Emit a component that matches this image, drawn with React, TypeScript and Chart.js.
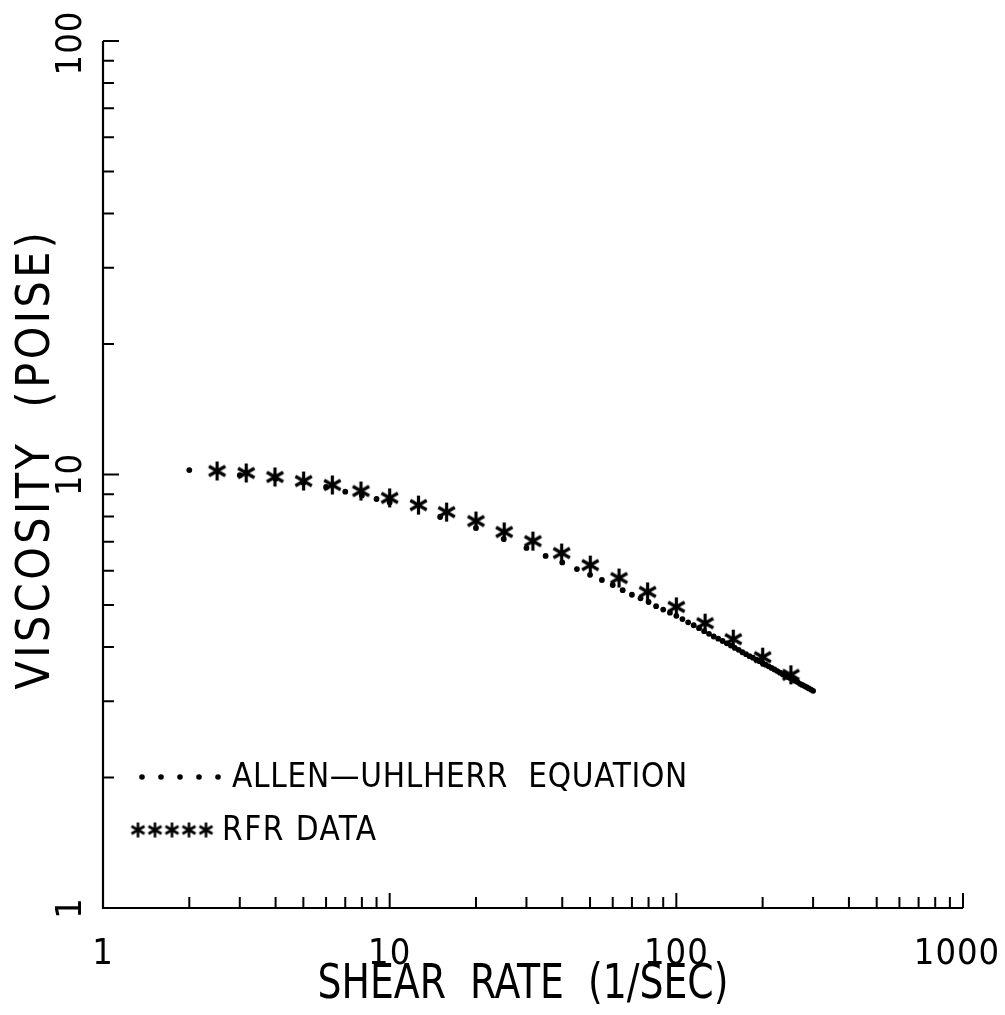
import React, { useEffect, useRef } from "react";
import { Chart, registerables } from "chart.js";

Chart.register(...registerables);

// ---- data ----
const rfrShear = [2.5, 3.16, 3.98, 5.01, 6.31, 7.94, 10, 12.6, 15.8, 20, 25.1, 31.6, 39.8, 50.1, 63.1, 79.4, 100, 126, 158, 200, 251];
const rfrVisc = [10.19, 10.08, 9.87, 9.66, 9.46, 9.16, 8.83, 8.5, 8.19, 7.81, 7.37, 7.02, 6.59, 6.18, 5.77, 5.36, 4.95, 4.54, 4.17, 3.79, 3.45];

const eqShear = [
  2, 3, 4, 5, 6, 7, 8, 9, 10,
  15, 20, 25, 30, 35, 40, 45, 50, 55, 60, 65, 70, 75, 80, 85, 90, 95, 100,
  105, 110, 115, 120, 125, 130, 135, 140, 145, 150,
  155, 160, 165, 170, 175, 180, 185, 190, 195, 200,
  205, 210, 215, 220, 225, 230, 235, 240, 245, 250,
  255, 260, 265, 270, 275, 280, 285, 290, 295, 300,
];
const eqVisc = [
  10.24, 9.97, 9.78, 9.57, 9.36, 9.13, 8.95, 8.78, 8.62,
  7.98, 7.53, 7.1, 6.77, 6.49, 6.27, 6.05, 5.87, 5.71, 5.56, 5.41, 5.28, 5.18, 5.08, 4.97, 4.88, 4.8, 4.72,
  4.64, 4.56, 4.49, 4.42, 4.35, 4.29, 4.23, 4.18, 4.13, 4.08,
  4.03, 3.98, 3.94, 3.89, 3.85, 3.81, 3.78, 3.74, 3.71, 3.67,
  3.64, 3.61, 3.58, 3.55, 3.52, 3.49, 3.46, 3.44, 3.41, 3.39,
  3.36, 3.34, 3.32, 3.29, 3.27, 3.25, 3.23, 3.21, 3.19, 3.17,
];

const xTickValues = [1, 10, 100, 1000];
const xTickLabels = ["1", "10", "100", "1000"];
const yTickValues = [1, 10, 100];
const yTickLabels = ["1", "10", "100"];
const xMinorValues = [2, 3, 4, 5, 6, 7, 8, 9, 20, 30, 40, 50, 60, 70, 80, 90, 200, 300, 400, 500, 600, 700, 800, 900];
const yMinorValues = [2, 3, 4, 5, 6, 7, 8, 9, 20, 30, 40, 50, 60, 70, 80, 90];

const xTitle = "SHEAR  RATE  (1/SEC)";
const yTitle = "VISCOSITY  (POISE)";
const legendEq = "ALLEN\u2014UHLHERR  EQUATION";
const legendRfr = "RFR DATA";

const FONT_FAMILY = '"Liberation Sans Narrow", "DejaVu Sans Condensed", "Liberation Sans", sans-serif';

function makeStar(size: number, lw: number): HTMLCanvasElement {
  const c = document.createElement("canvas");
  c.width = size;
  c.height = size;
  const ctx = c.getContext("2d")!;
  const r = size / 2 - 1;
  const cx = size / 2;
  const cy = size / 2;
  ctx.strokeStyle = "#000";
  ctx.lineWidth = lw;
  ctx.lineCap = "butt";
  for (const ang of [90, 30, -30]) {
    const a = (ang * Math.PI) / 180;
    ctx.beginPath();
    ctx.moveTo(cx - r * Math.cos(a), cy - r * Math.sin(a));
    ctx.lineTo(cx + r * Math.cos(a), cy + r * Math.sin(a));
    ctx.stroke();
  }
  return c;
}

export default function App() {
  const ref = useRef<HTMLCanvasElement | null>(null);

  useEffect(() => {
    if (!ref.current) return;
    const star = makeStar(21, 3.2);
    const smallStar = makeStar(17, 2.6);

    const axesPlugin = {
      id: "axesPlugin",
      beforeDatasetsDraw(chart: any) {
        const ctx = chart.ctx;
        const xs = chart.scales.x;
        const ys = chart.scales.y;
        const left = xs.getPixelForValue(1);
        const right = xs.getPixelForValue(1000);
        const top = ys.getPixelForValue(100);
        const bottom = ys.getPixelForValue(1);
        ctx.save();
        ctx.strokeStyle = "#000";
        ctx.lineWidth = 2.2;
        ctx.beginPath();
        ctx.moveTo(left, top);
        ctx.lineTo(left, bottom);
        ctx.lineTo(right, bottom);
        ctx.stroke();
        ctx.lineWidth = 2;
        ctx.beginPath();
        for (const v of xMinorValues) {
          const p = xs.getPixelForValue(v);
          ctx.moveTo(p, bottom);
          ctx.lineTo(p, bottom - 11);
        }
        for (const v of xTickValues) {
          if (v === 1) continue;
          const p = xs.getPixelForValue(v);
          ctx.moveTo(p, bottom);
          ctx.lineTo(p, bottom - 15);
        }
        for (const v of yMinorValues) {
          const p = ys.getPixelForValue(v);
          ctx.moveTo(left, p);
          ctx.lineTo(left + 11, p);
        }
        for (const v of yTickValues) {
          if (v === 1) continue;
          const p = ys.getPixelForValue(v);
          ctx.moveTo(left, p);
          ctx.lineTo(left + 16, p);
        }
        ctx.stroke();
        ctx.restore();
      },
      afterDraw(chart: any) {
        const ctx = chart.ctx;
        const xs = chart.scales.x;
        const ys = chart.scales.y;
        ctx.save();
        ctx.fillStyle = "#000";
        // x tick labels
        ctx.font = `36px ${FONT_FAMILY}`;
        ctx.textAlign = "center";
        ctx.textBaseline = "middle";
        (ctx as any).letterSpacing = "1px";
        xTickValues.forEach((v, i) => {
          let p = xs.getPixelForValue(v);
          if (v === 1000) p -= 6;
          ctx.fillText(xTickLabels[i], p, 955);
        });
        // y tick labels (rotated)
        yTickValues.forEach((v, i) => {
          const p = ys.getPixelForValue(v);
          ctx.save();
          ctx.translate(72, v === 100 ? p + 2 : p);
          ctx.rotate(-Math.PI / 2);
          ctx.fillText(yTickLabels[i], 0, 0);
          ctx.restore();
        });
        // x title (slightly condensed)
        ctx.font = `48px ${FONT_FAMILY}`;
        (ctx as any).letterSpacing = "0px";
        ctx.save();
        ctx.translate(523, 986);
        ctx.scale(0.875, 1);
        ctx.fillText(xTitle, 0, 0);
        ctx.restore();
        // y title
        ctx.font = `46px ${FONT_FAMILY}`;
        (ctx as any).letterSpacing = "3.5px";
        ctx.save();
        ctx.translate(37, 459);
        ctx.rotate(-Math.PI / 2);
        ctx.fillText(yTitle, 0, 0);
        ctx.restore();
        // legend
        ctx.font = `33px ${FONT_FAMILY}`;
        (ctx as any).letterSpacing = "0.7px";
        ctx.textAlign = "left";
        for (let i = 0; i < 5; i++) {
          ctx.beginPath();
          ctx.arc(142 + i * 19, 777, 2.8, 0, Math.PI * 2);
          ctx.fill();
        }
        ctx.fillText(legendEq, 232, 778);
        (ctx as any).letterSpacing = "1.5px";
        for (let i = 0; i < 5; i++) {
          ctx.drawImage(smallStar, 138 + i * 17 - 8.5, 830 - 8.5);
        }
        ctx.fillText(legendRfr, 222, 831);
        ctx.restore();
      },
    };

    const chart = new Chart(ref.current, {
      type: "scatter",
      data: {
        datasets: [
          {
            label: legendEq,
            data: eqShear.map((x, i) => ({ x, y: eqVisc[i] })),
            showLine: false,
            pointRadius: 2.9,
            pointBackgroundColor: "#000",
            pointBorderWidth: 0,
            pointStyle: "circle",
          },
          {
            label: legendRfr,
            data: rfrShear.map((x, i) => ({ x, y: rfrVisc[i] })),
            showLine: false,
            pointStyle: star,
            pointRadius: 10,
          },
        ],
      },
      options: {
        responsive: false,
        animation: false,
        devicePixelRatio: 1,
        layout: { padding: { left: 103, top: 41, right: 42, bottom: 107 } },
        plugins: { legend: { display: false }, tooltip: { enabled: false }, title: { display: false } },
        scales: {
          x: { type: "logarithmic", min: 1, max: 1000, display: false },
          y: { type: "logarithmic", min: 1, max: 100, display: false },
        },
      },
      plugins: [axesPlugin],
    });
    return () => chart.destroy();
  }, []);

  return (
    <div style={{ position: "absolute", left: 0, top: 0, width: 1005, height: 1015, background: "#fff" }}>
      <canvas ref={ref} width={1005} height={1015} style={{ width: 1005, height: 1015, display: "block" }} />
    </div>
  );
}
